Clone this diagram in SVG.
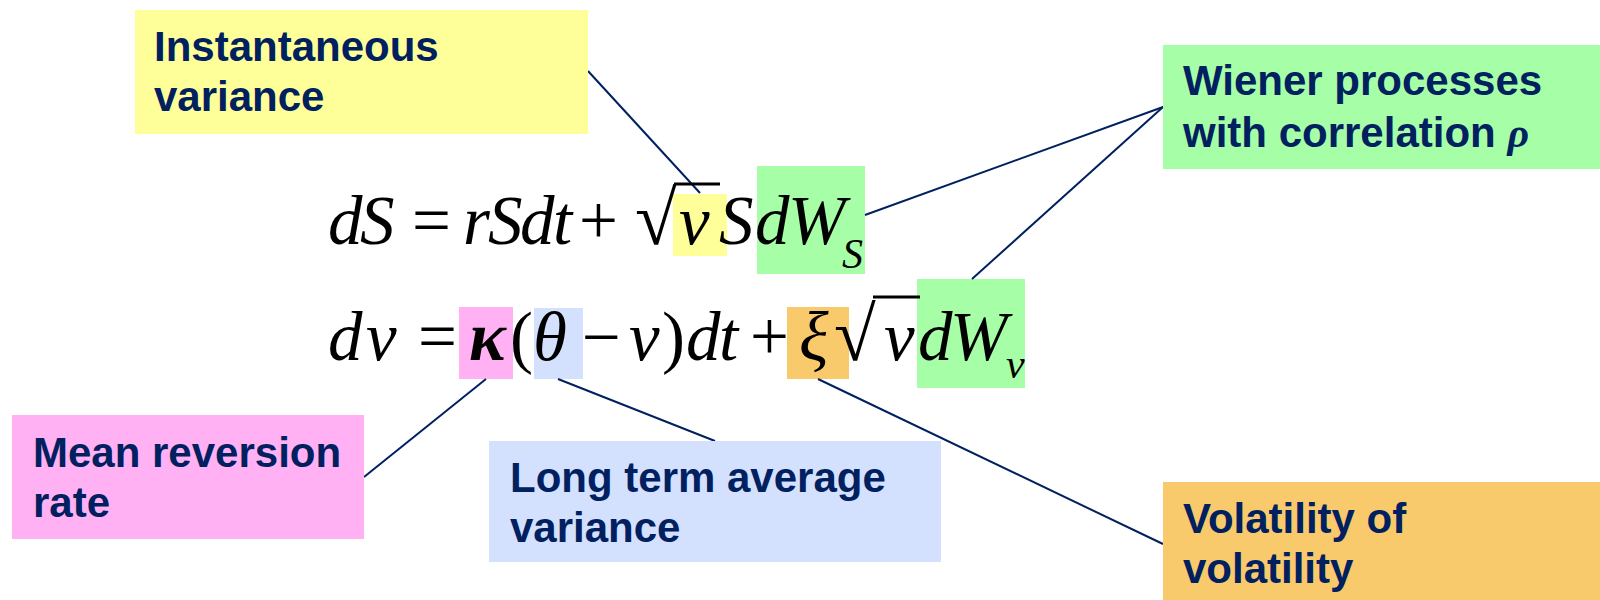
<svg xmlns="http://www.w3.org/2000/svg" width="1600" height="600" viewBox="0 0 1600 600">
<style>
.lbl{font-family:"Liberation Sans",Arial,sans-serif;font-weight:bold;font-size:42px;fill:#002060}
.eq{font-family:"Liberation Serif","Times New Roman",serif;font-size:69px;fill:#000;font-style:italic}
.up{font-style:normal}
.sub{font-size:42px}
.conn line{stroke:#002060;stroke-width:2}
.bar{stroke:#000;stroke-width:3}
</style>
<rect width="1600" height="600" fill="#fff"/>
<g id="highlights">
<rect x="673" y="194" width="54" height="62" fill="#FFFF99"/>
<rect x="757" y="166" width="108" height="108" fill="#A6FFA6"/>
<rect x="459" y="307" width="54" height="72" fill="#FFB1F4"/>
<rect x="534" y="308" width="49" height="71" fill="#D3E0FE"/>
<rect x="787" y="307" width="62" height="72" fill="#F9CA6C"/>
<rect x="917" y="279" width="108" height="109" fill="#A6FFA6"/>
</g>
<g class="conn" id="connectors">
<line x1="588" y1="71" x2="700" y2="193"/>
<line x1="1163" y1="107" x2="865" y2="215"/>
<line x1="1163" y1="107" x2="972" y2="279"/>
<line x1="364" y1="477" x2="486" y2="379"/>
<line x1="715" y1="441" x2="558" y2="379"/>
<line x1="1163" y1="544" x2="818" y2="379"/>
</g>
<g id="eq1">
<text class="eq" y="244"><tspan x="328">d</tspan><tspan x="360">S</tspan><tspan class="up" x="412">=</tspan><tspan x="463">r</tspan><tspan x="488">S</tspan><tspan x="520">d</tspan><tspan x="553">t</tspan><tspan class="up" x="579">+</tspan><tspan class="up" x="635" font-size="76">√</tspan><tspan x="679">ν</tspan><tspan x="719">S</tspan><tspan x="755">d</tspan><tspan x="788">W</tspan></text>
<text class="eq sub" x="842" y="268">S</text>
<line class="bar" x1="674" y1="184" x2="720" y2="184"/>
</g>
<g id="eq2">
<text class="eq" y="360"><tspan x="328">d</tspan><tspan x="366">ν</tspan><tspan class="up" x="418">=</tspan><tspan x="469" font-weight="bold">κ</tspan><tspan class="up" x="510">(</tspan><tspan x="533">θ</tspan><tspan class="up" x="582">−</tspan><tspan x="629">ν</tspan><tspan class="up" x="662">)</tspan><tspan x="686">d</tspan><tspan x="719">t</tspan><tspan class="up" x="750">+</tspan><tspan x="799">ξ</tspan><tspan class="up" x="834" font-size="76">√</tspan><tspan x="884">ν</tspan><tspan x="918">d</tspan><tspan x="950">W</tspan></text>
<text class="eq sub" x="1006" y="378">ν</text>
<line class="bar" x1="873" y1="297" x2="920" y2="297"/>
</g>
<g id="n-inst">
<rect x="135" y="10" width="453" height="124" fill="#FFFF99"/>
<text class="lbl"><tspan x="154" y="61">Instantaneous</tspan><tspan x="154" y="111">variance</tspan></text>
</g>
<g id="n-wiener">
<rect x="1163" y="45" width="437" height="124" fill="#A6FFA6"/>
<text class="lbl"><tspan x="1183" y="95">Wiener processes</tspan><tspan x="1183" y="147">with correlation <tspan font-family="'Liberation Serif',serif" font-style="italic" font-weight="bold">ρ</tspan></tspan></text>
</g>
<g id="n-mean">
<rect x="12" y="415" width="352" height="124" fill="#FFB1F4"/>
<text class="lbl"><tspan x="33" y="467">Mean reversion</tspan><tspan x="33" y="517">rate</tspan></text>
</g>
<g id="n-long">
<rect x="489" y="441" width="452" height="121" fill="#D3E0FE"/>
<text class="lbl"><tspan x="510" y="492">Long term average</tspan><tspan x="510" y="542">variance</tspan></text>
</g>
<g id="n-vol">
<rect x="1163" y="482" width="437" height="118" fill="#F9CA6C"/>
<text class="lbl"><tspan x="1183" y="533">Volatility of</tspan><tspan x="1183" y="583">volatility</tspan></text>
</g>
</svg>
